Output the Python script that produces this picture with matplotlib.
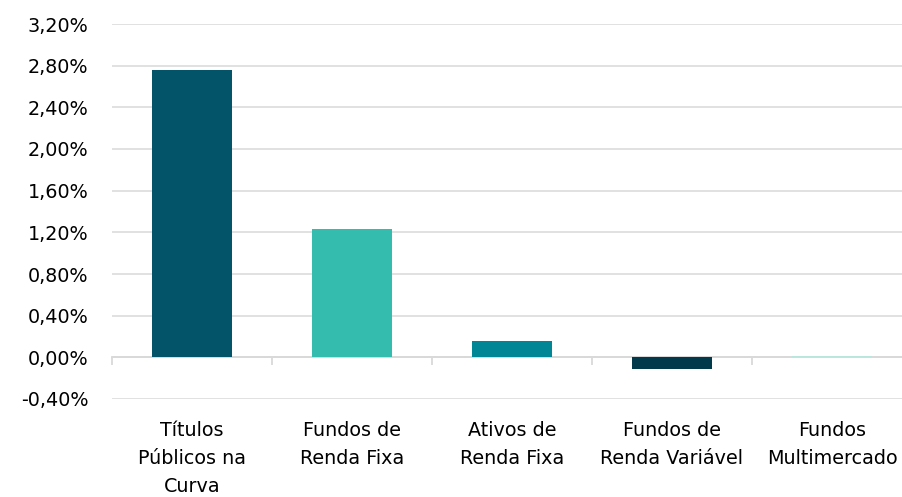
import numpy as np
import matplotlib.pyplot as plt
from matplotlib.ticker import FixedLocator, FuncFormatter

plt.rcParams["font.family"] = ["DejaVu Sans"]

categories = [
    "Títulos\nPúblicos na\nCurva",
    "Fundos de\nRenda Fixa",
    "Ativos de\nRenda Fixa",
    "Fundos de\nRenda Variável",
    "Fundos\nMultimercado",
]
values = [2.76, 1.23, 0.16, -0.11, 0.015]
colors = ["#035468", "#34BDAE", "#008695", "#003A4B", "#B8E6DD"]
yticks = [-0.4, 0.0, 0.4, 0.8, 1.2, 1.6, 2.0, 2.4, 2.8, 3.2]

fig = plt.figure(figsize=(9.03, 4.97), dpi=100)
ax = fig.add_axes([112 / 903, 1 - 399 / 497, 800 / 903, 375 / 497])

x = np.arange(len(categories))
ax.bar(x, values, width=0.505, color=colors, zorder=3)

ax.set_xlim(-0.5, len(categories) - 0.5)
ax.set_ylim(-0.4, 3.2)
ax.set_yticks(yticks)
ax.yaxis.set_major_formatter(FuncFormatter(lambda v, p: f"{v:.2f}%".replace(".", ",")))
ax.grid(axis="y", color="#D9D9D9", linewidth=1.1, zorder=0)

for s in ["top", "right", "left"]:
    ax.spines[s].set_visible(False)
ax.spines["bottom"].set_position(("data", 0))
ax.spines["bottom"].set_color("#D9D9D9")
ax.spines["bottom"].set_linewidth(1.3)
ax.spines["bottom"].set_zorder(2)

ax.set_xticks(x)
ax.set_xticklabels(categories, linespacing=1.62)
ax.xaxis.set_minor_locator(FixedLocator(np.arange(-0.5, len(categories), 1.0)))
ax.tick_params(axis="x", which="major", length=0, pad=45.5, labelsize=13.8, colors="#000000")
ax.tick_params(axis="x", which="minor", length=6, width=1.3, color="#D9D9D9", direction="out")
ax.tick_params(axis="y", length=0, pad=17, labelsize=13.8)

fig.savefig("out.png", dpi=100)
